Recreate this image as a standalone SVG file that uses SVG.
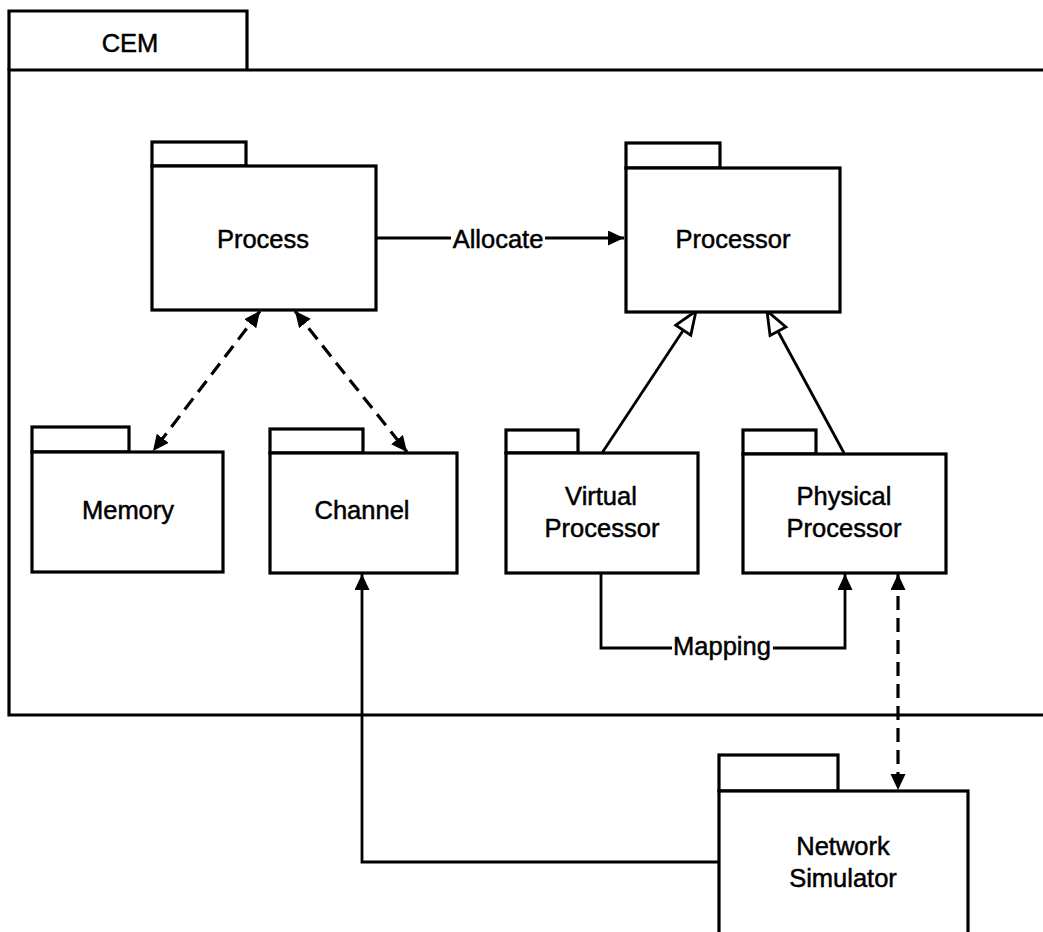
<svg xmlns="http://www.w3.org/2000/svg" width="1043" height="932" viewBox="0 0 1043 932">
<defs>
<style>
.box{fill:#fff;stroke:#000;stroke-width:3.2;stroke-linejoin:miter}
.frame{fill:none;stroke:#000;stroke-width:3.2}
.lbl{font-family:"Liberation Sans",Arial,Helvetica,sans-serif;font-size:25.5px;fill:#000;stroke:#000;stroke-width:0.5;text-anchor:middle}
.con{fill:none;stroke:#000;stroke-width:2.8}
.dash{stroke-width:3.2;stroke-dasharray:14 8}
</style>
<marker id="arr" markerUnits="userSpaceOnUse" markerWidth="18" markerHeight="16" refX="16" refY="7.5" orient="auto-start-reverse">
<path d="M0,0 L16,7.5 L0,15 Z" fill="#000"/>
</marker>
<marker id="tri" markerUnits="userSpaceOnUse" markerWidth="28" markerHeight="24" refX="25" refY="11" orient="auto">
<path d="M2,2 L25,11 L2,20 Z" fill="#fff" stroke="#000" stroke-width="2.8"/>
</marker>
</defs>
<rect width="1043" height="932" fill="#fff"/>

<g id="CEM">
<path class="frame" d="M1050,70 H9 V715 H1050"/>
<path class="frame" d="M9,70 V11 H247 V70"/>
<text class="lbl" x="130" y="52">CEM</text>
</g>

<g id="connectors">
<path class="con" d="M376,238 H451 M545,238 H624" marker-end="url(#arr)"/>
<text class="lbl" x="498" y="248">Allocate</text>
<path class="con dash" d="M260,311 L153,451" marker-start="url(#arr)" marker-end="url(#arr)"/>
<path class="con dash" d="M295,311 L407,452" marker-start="url(#arr)" marker-end="url(#arr)"/>
<path class="con" d="M602,453 L696,311" marker-end="url(#tri)"/>
<path class="con" d="M844,453 L767,311" marker-end="url(#tri)"/>
<path class="con" d="M601,573 V648 H672 M773,648 H845 V574" marker-end="url(#arr)"/>
<text class="lbl" x="722" y="655">Mapping</text>
<path class="con dash" d="M898,574 V790" marker-start="url(#arr)" marker-end="url(#arr)"/>
<path class="con" d="M719,862 H362 V574" marker-end="url(#arr)"/>
</g>

<g id="Process">
<rect class="box" x="152" y="142" width="94" height="24"/>
<rect class="box" x="152" y="166" width="224" height="144"/>
<text class="lbl" x="263" y="248">Process</text>
</g>

<g id="Processor">
<rect class="box" x="626" y="143" width="94" height="25"/>
<rect class="box" x="626" y="168" width="214" height="144"/>
<text class="lbl" x="733" y="248">Processor</text>
</g>

<g id="Memory">
<rect class="box" x="32" y="427" width="97" height="25"/>
<rect class="box" x="32" y="452" width="191" height="120"/>
<text class="lbl" x="128" y="519">Memory</text>
</g>

<g id="Channel">
<rect class="box" x="270" y="429" width="93" height="24"/>
<rect class="box" x="270" y="453" width="187" height="120"/>
<text class="lbl" x="362" y="519">Channel</text>
</g>

<g id="VirtualProcessor">
<rect class="box" x="506" y="430" width="72" height="23"/>
<rect class="box" x="506" y="453" width="192" height="120"/>
<text class="lbl" x="601" y="505">Virtual</text>
<text class="lbl" x="602" y="537">Processor</text>
</g>

<g id="PhysicalProcessor">
<rect class="box" x="743" y="430" width="73" height="24"/>
<rect class="box" x="743" y="454" width="203" height="119"/>
<text class="lbl" x="844" y="505">Physical</text>
<text class="lbl" x="844" y="537">Processor</text>
</g>

<g id="NetworkSimulator">
<rect class="box" x="719" y="755" width="119" height="36"/>
<rect class="box" x="719" y="791" width="249" height="160"/>
<text class="lbl" x="843" y="855">Network</text>
<text class="lbl" x="843" y="887">Simulator</text>
</g>
</svg>
